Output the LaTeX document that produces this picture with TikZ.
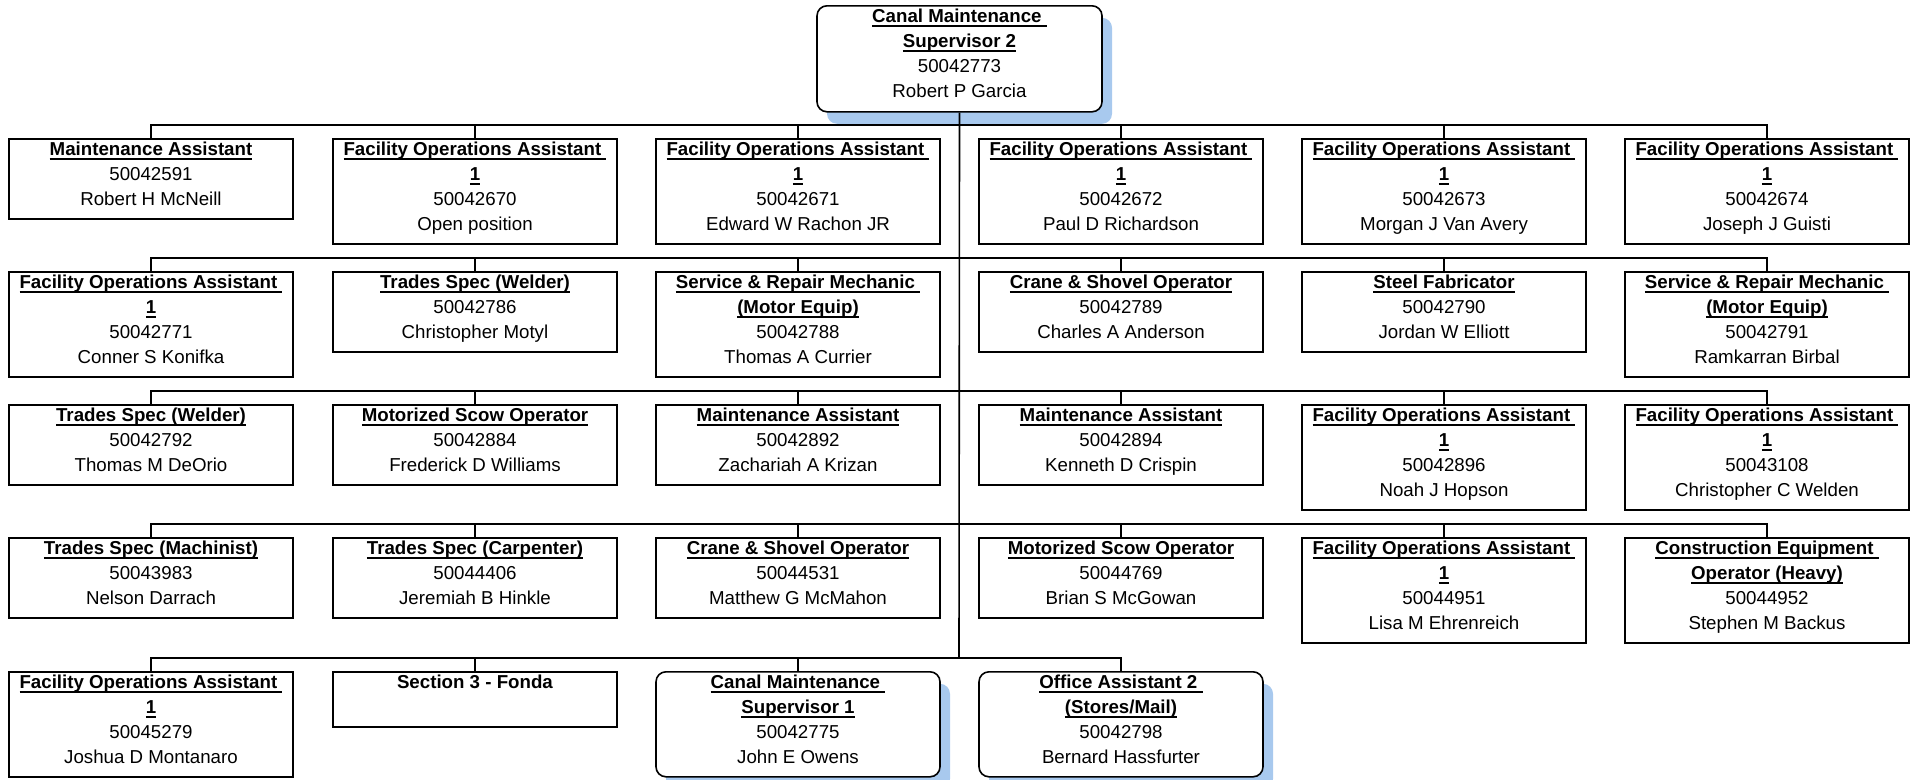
\documentclass[tikz,border=0pt]{standalone}
\usepackage{fontspec}
\setmainfont{Liberation Sans}
\usetikzlibrary{shadows}
\definecolor{shadowblue}{RGB}{168,201,238}
\newcommand\ttl[1]{\setbox0=\hbox{\bfseries #1}\rlap{\rule[-4.5pt]{\wd0}{1.6pt}}\box0}
\newcommand\orgbox[6]{%
  \node[#2, minimum height=#5pt, anchor=north] (#1) at (#3,#4) {};
  \node[ptext] (#1t) at (#1.north) {\rule{0pt}{17pt}#6};}
\begin{document}
\begin{tikzpicture}[x=1pt,y=-1pt,
  posbox/.style={draw=black, line width=1.6pt, fill=white, rectangle, minimum width=284pt, inner sep=0pt},
  supbox/.style={posbox, rounded corners=10pt,
     drop shadow={shadow xshift=10pt, shadow yshift=-12pt, fill=shadowblue, opacity=1}},
  ptext/.style={anchor=north, inner sep=0pt, align=center, font=\fontsize{18.7pt}{25pt}\selectfont},
  conn/.style={draw=black, line width=1.6pt}]
\useasboundingbox (0,0) rectangle (1916,779);

% trunk points on each bus
\coordinate (t1) at (959,125);
\coordinate (t2) at (959,258);
\coordinate (t3) at (959,391);
\coordinate (t4) at (959,524);
\coordinate (t5) at (959,658);

% root
\orgbox{root}{supbox, minimum width=285pt}{959.5}{5}{106}{\ttl{Canal Maintenance\ }\\\ttl{Supervisor 2}\\50042773\\Robert P Garcia}

% row 1
\orgbox{a1}{posbox}{151}{138}{80}{\ttl{Maintenance Assistant}\\50042591\\Robert H McNeill}
\orgbox{a2}{posbox}{475}{138}{105}{\ttl{Facility Operations Assistant\ }\\\ttl{1}\\50042670\\Open position}
\orgbox{a3}{posbox}{798}{138}{105}{\ttl{Facility Operations Assistant\ }\\\ttl{1}\\50042671\\Edward W Rachon JR}
\orgbox{a4}{posbox}{1121}{138}{105}{\ttl{Facility Operations Assistant\ }\\\ttl{1}\\50042672\\Paul D Richardson}
\orgbox{a5}{posbox}{1444}{138}{105}{\ttl{Facility Operations Assistant\ }\\\ttl{1}\\50042673\\Morgan J Van Avery}
\orgbox{a6}{posbox}{1767}{138}{105}{\ttl{Facility Operations Assistant\ }\\\ttl{1}\\50042674\\Joseph J Guisti}

% row 2
\orgbox{b1}{posbox}{151}{271}{105}{\ttl{Facility Operations Assistant\ }\\\ttl{1}\\50042771\\Conner S Konifka}
\orgbox{b2}{posbox}{475}{271}{80}{\ttl{Trades Spec (Welder)}\\50042786\\Christopher Motyl}
\orgbox{b3}{posbox}{798}{271}{105}{\ttl{Service \& Repair Mechanic\ }\\\ttl{(Motor Equip)}\\50042788\\Thomas A Currier}
\orgbox{b4}{posbox}{1121}{271}{80}{\ttl{Crane \& Shovel Operator}\\50042789\\Charles A Anderson}
\orgbox{b5}{posbox}{1444}{271}{80}{\ttl{Steel Fabricator}\\50042790\\Jordan W Elliott}
\orgbox{b6}{posbox}{1767}{271}{105}{\ttl{Service \& Repair Mechanic\ }\\\ttl{(Motor Equip)}\\50042791\\Ramkarran Birbal}

% row 3
\orgbox{c1}{posbox}{151}{404}{80}{\ttl{Trades Spec (Welder)}\\50042792\\Thomas M DeOrio}
\orgbox{c2}{posbox}{475}{404}{80}{\ttl{Motorized Scow Operator}\\50042884\\Frederick D Williams}
\orgbox{c3}{posbox}{798}{404}{80}{\ttl{Maintenance Assistant}\\50042892\\Zachariah A Krizan}
\orgbox{c4}{posbox}{1121}{404}{80}{\ttl{Maintenance Assistant}\\50042894\\Kenneth D Crispin}
\orgbox{c5}{posbox}{1444}{404}{105}{\ttl{Facility Operations Assistant\ }\\\ttl{1}\\50042896\\Noah J Hopson}
\orgbox{c6}{posbox}{1767}{404}{105}{\ttl{Facility Operations Assistant\ }\\\ttl{1}\\50043108\\Christopher C Welden}

% row 4
\orgbox{d1}{posbox}{151}{537}{80}{\ttl{Trades Spec (Machinist)}\\50043983\\Nelson Darrach}
\orgbox{d2}{posbox}{475}{537}{80}{\ttl{Trades Spec (Carpenter)}\\50044406\\Jeremiah B Hinkle}
\orgbox{d3}{posbox}{798}{537}{80}{\ttl{Crane \& Shovel Operator}\\50044531\\Matthew G McMahon}
\orgbox{d4}{posbox}{1121}{537}{80}{\ttl{Motorized Scow Operator}\\50044769\\Brian S McGowan}
\orgbox{d5}{posbox}{1444}{537}{105}{\ttl{Facility Operations Assistant\ }\\\ttl{1}\\50044951\\Lisa M Ehrenreich}
\orgbox{d6}{posbox}{1767}{537}{105}{\ttl{Construction Equipment\ }\\\ttl{Operator (Heavy)}\\50044952\\Stephen M Backus}

% row 5
\orgbox{e1}{posbox}{151}{671}{105}{\ttl{Facility Operations Assistant\ }\\\ttl{1}\\50045279\\Joshua D Montanaro}
\orgbox{e2}{posbox}{475}{671}{55}{\textbf{Section 3 - Fonda}}
\orgbox{e3}{supbox}{798}{671}{105}{\ttl{Canal Maintenance\ }\\\ttl{Supervisor 1}\\50042775\\John E Owens}
\orgbox{e4}{supbox}{1121}{671}{105}{\ttl{Office Assistant 2\ }\\\ttl{(Stores/Mail)}\\50042798\\Bernard Hassfurter}

% connectors
\draw[conn] (root.south) -- (t5);
\foreach \n in {a1,a2,a3,a4,a5,a6}{\draw[conn] (\n.north) |- (t1);}
\foreach \n in {b1,b2,b3,b4,b5,b6}{\draw[conn] (\n.north) |- (t2);}
\foreach \n in {c1,c2,c3,c4,c5,c6}{\draw[conn] (\n.north) |- (t3);}
\foreach \n in {d1,d2,d3,d4,d5,d6}{\draw[conn] (\n.north) |- (t4);}
\foreach \n in {e1,e2,e3,e4}{\draw[conn] (\n.north) |- (t5);}
\end{tikzpicture}
\end{document}
